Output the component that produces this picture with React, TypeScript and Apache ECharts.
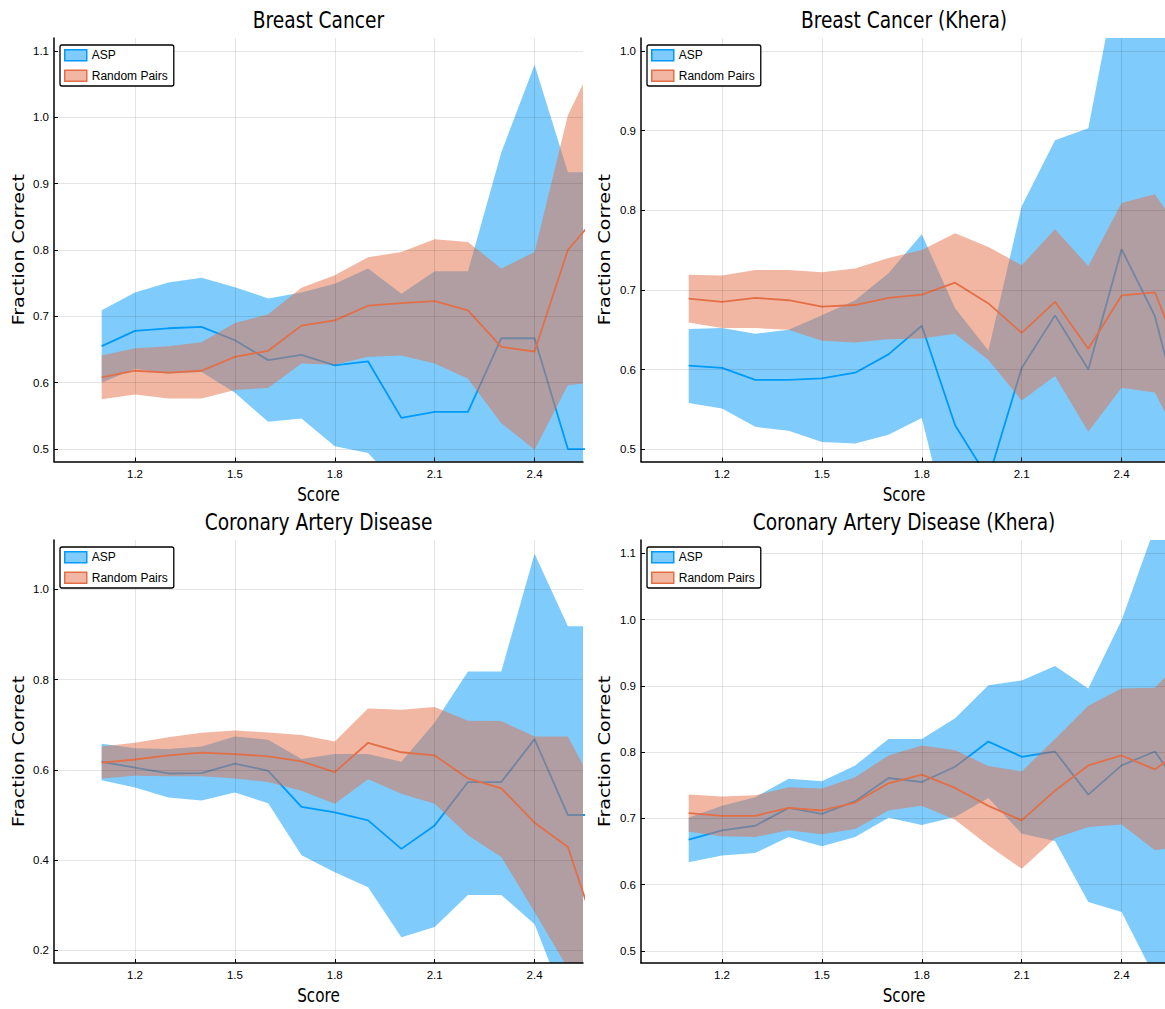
import React, { useEffect, useRef } from "react";
import * as echarts from "echarts";

// ---------------- data ----------------
const scores = [1.1, 1.2, 1.3, 1.4, 1.5, 1.6, 1.7, 1.8, 1.9, 2.0, 2.1, 2.2, 2.3, 2.4, 2.5, 2.6];
const xTickValues = [1.2, 1.5, 1.8, 2.1, 2.4];

const panelTitles = [
  "Breast Cancer",
  "Breast Cancer (Khera)",
  "Coronary Artery Disease",
  "Coronary Artery Disease (Khera)",
];
const seriesNames = ["ASP", "Random Pairs"];
const xAxisTitle = "Score";
const yAxisTitle = "Fraction Correct";

// Breast Cancer
const bcAspMean = [0.655, 0.678, 0.682, 0.684, 0.664, 0.634, 0.642, 0.626, 0.632, 0.547, 0.556, 0.556, 0.667, 0.667, 0.5, 0.5];
const bcAspUpper = [0.709, 0.736, 0.751, 0.758, 0.744, 0.727, 0.736, 0.749, 0.772, 0.734, 0.768, 0.768, 0.947, 1.079, 0.917, 0.917];
const bcAspLower = [0.6, 0.621, 0.614, 0.616, 0.585, 0.541, 0.546, 0.504, 0.494, 0.44, 0.42, 0.4, 0.38, 0.35, 0.3, 0.3];
const bcRpMean = [0.608, 0.618, 0.615, 0.618, 0.639, 0.648, 0.686, 0.694, 0.716, 0.72, 0.723, 0.709, 0.654, 0.647, 0.8, 0.859];
const bcRpUpper = [0.641, 0.652, 0.655, 0.661, 0.69, 0.703, 0.743, 0.762, 0.789, 0.797, 0.816, 0.812, 0.772, 0.797, 1.003, 1.107];
const bcRpLower = [0.575, 0.582, 0.576, 0.576, 0.589, 0.592, 0.629, 0.627, 0.639, 0.641, 0.629, 0.606, 0.539, 0.499, 0.596, 0.602];

// Breast Cancer (Khera)
const bckAspMean = [0.605, 0.602, 0.587, 0.587, 0.589, 0.596, 0.619, 0.655, 0.53, 0.463, 0.602, 0.668, 0.6, 0.751, 0.667, 0.505];
const bckAspUpper = [0.651, 0.652, 0.645, 0.65, 0.668, 0.687, 0.721, 0.77, 0.677, 0.624, 0.805, 0.888, 0.903, 1.12, 1.15, 1.1];
const bckAspLower = [0.558, 0.551, 0.528, 0.523, 0.509, 0.507, 0.518, 0.539, 0.37, 0.3, 0.33, 0.35, 0.33, 0.35, 0.3, 0.3];
const bckRpMean = [0.689, 0.685, 0.69, 0.687, 0.679, 0.681, 0.69, 0.694, 0.709, 0.683, 0.646, 0.685, 0.626, 0.693, 0.697, 0.59];
const bckRpUpper = [0.719, 0.718, 0.725, 0.725, 0.722, 0.727, 0.74, 0.75, 0.771, 0.754, 0.731, 0.776, 0.73, 0.809, 0.82, 0.76];
const bckRpLower = [0.659, 0.652, 0.652, 0.65, 0.636, 0.634, 0.638, 0.639, 0.645, 0.612, 0.561, 0.592, 0.522, 0.577, 0.571, 0.49];

// Coronary Artery Disease
const cadAspMean = [0.618, 0.605, 0.592, 0.593, 0.614, 0.598, 0.518, 0.506, 0.488, 0.425, 0.477, 0.573, 0.573, 0.668, 0.5, 0.5];
const cadAspUpper = [0.658, 0.648, 0.646, 0.652, 0.674, 0.667, 0.624, 0.635, 0.635, 0.618, 0.705, 0.818, 0.818, 1.079, 0.918, 0.918];
const cadAspLower = [0.577, 0.561, 0.539, 0.532, 0.55, 0.526, 0.411, 0.373, 0.34, 0.229, 0.252, 0.323, 0.323, 0.258, 0.07, 0.05];
const cadRpMean = [0.616, 0.623, 0.632, 0.638, 0.635, 0.63, 0.619, 0.595, 0.66, 0.639, 0.632, 0.581, 0.559, 0.483, 0.429, 0.208];
const cadRpUpper = [0.652, 0.66, 0.672, 0.682, 0.687, 0.683, 0.677, 0.663, 0.736, 0.733, 0.739, 0.709, 0.708, 0.674, 0.674, 0.535];
const cadRpLower = [0.581, 0.587, 0.586, 0.586, 0.581, 0.573, 0.554, 0.525, 0.579, 0.547, 0.525, 0.455, 0.407, 0.285, 0.16, 0.1];

// Coronary Artery Disease (Khera)
const cadkAspMean = [0.668, 0.682, 0.689, 0.716, 0.707, 0.726, 0.761, 0.755, 0.778, 0.816, 0.793, 0.801, 0.736, 0.78, 0.801, 0.73];
const cadkAspUpper = [0.701, 0.719, 0.732, 0.76, 0.756, 0.78, 0.82, 0.82, 0.851, 0.901, 0.908, 0.93, 0.896, 0.999, 1.14, 1.25];
const cadkAspLower = [0.634, 0.644, 0.648, 0.672, 0.658, 0.672, 0.701, 0.69, 0.702, 0.731, 0.677, 0.666, 0.574, 0.559, 0.46, 0.4];
const cadkRpMean = [0.708, 0.704, 0.704, 0.716, 0.712, 0.724, 0.753, 0.766, 0.746, 0.719, 0.697, 0.742, 0.78, 0.795, 0.774, 0.81];
const cadkRpUpper = [0.736, 0.733, 0.735, 0.747, 0.745, 0.762, 0.795, 0.81, 0.803, 0.779, 0.771, 0.82, 0.87, 0.896, 0.897, 0.95];
const cadkRpLower = [0.68, 0.673, 0.672, 0.682, 0.676, 0.684, 0.712, 0.719, 0.698, 0.659, 0.624, 0.67, 0.687, 0.691, 0.652, 0.66];

const yTicksBc = [0.5, 0.6, 0.7, 0.8, 0.9, 1.0, 1.1];
const yTicksBcK = [0.5, 0.6, 0.7, 0.8, 0.9, 1.0];
const yTicksCad = [0.2, 0.4, 0.6, 0.8, 1.0];
const yTicksCadK = [0.5, 0.6, 0.7, 0.8, 0.9, 1.0, 1.1];

const panels = [
  { title: panelTitles[0], yTicks: yTicksBc,
    asp: { mean: bcAspMean, upper: bcAspUpper, lower: bcAspLower },
    rp: { mean: bcRpMean, upper: bcRpUpper, lower: bcRpLower } },
  { title: panelTitles[1], yTicks: yTicksBcK,
    asp: { mean: bckAspMean, upper: bckAspUpper, lower: bckAspLower },
    rp: { mean: bckRpMean, upper: bckRpUpper, lower: bckRpLower } },
  { title: panelTitles[2], yTicks: yTicksCad,
    asp: { mean: cadAspMean, upper: cadAspUpper, lower: cadAspLower },
    rp: { mean: cadRpMean, upper: cadRpUpper, lower: cadRpLower } },
  { title: panelTitles[3], yTicks: yTicksCadK,
    asp: { mean: cadkAspMean, upper: cadkAspUpper, lower: cadkAspLower },
    rp: { mean: cadkRpMean, upper: cadkRpUpper, lower: cadkRpLower } },
];

// ---------------- layout & style ----------------
const layouts = [
  { left: 54, top: 38, width: 529, height: 423.5, xMin: 0.9568, xMax: 2.5454, yMin: 0.4812, yMax: 1.1195, cx: 318.5, titleY: 20, nameY: 494.5, fcX: 18.8 },
  { left: 641, top: 38, width: 524, height: 423.5, xMin: 0.9568, xMax: 2.5303, yMin: 0.4845, yMax: 1.0163, cx: 904, titleY: 20, nameY: 494.5, fcX: 605 },
  { left: 54, top: 540, width: 529, height: 423, xMin: 0.9568, xMax: 2.5454, yMin: 0.1722, yMax: 1.1092, cx: 318.5, titleY: 522, nameY: 995, fcX: 18.8 },
  { left: 641, top: 540, width: 524, height: 423, xMin: 0.9568, xMax: 2.5303, yMin: 0.4819, yMax: 1.1201, cx: 904, titleY: 522, nameY: 995, fcX: 605 },
];

const BLUE = "#009AFA";
const ORANGE = "#E36F47";
const BLUE_FILL = "rgba(0,154,250,0.5)";
const ORANGE_FILL = "rgba(227,111,71,0.5)";
const SANS = "'DejaVu Sans', sans-serif";
const TICK_FONT = "'Liberation Sans', 'DejaVu Sans', sans-serif";
const LEGEND_FONT = "'Liberation Sans', sans-serif";

type Band = { mean: number[]; upper: number[]; lower: number[] };

function bandSeries(i: number, name: string, d: Band, color: string, fill: string, zBase: number) {
  return [
    {
      type: "custom", name, xAxisIndex: i, yAxisIndex: i, coordinateSystem: "cartesian2d",
      data: scores.map((x, k) => [x, d.lower[k], d.upper[k]]),
      encode: { x: 0, y: [1, 2] },
      clip: true, silent: true, z: zBase,
      itemStyle: { color: fill },
      renderItem: (params: any, api: any) => {
        if (params.dataIndex !== 0) return null;
        const pts: number[][] = [];
        for (let k = 0; k < scores.length; k++) pts.push(api.coord([scores[k], d.upper[k]]));
        for (let k = scores.length - 1; k >= 0; k--) pts.push(api.coord([scores[k], d.lower[k]]));
        return { type: "polygon", shape: { points: pts }, style: { fill, stroke: null, lineWidth: 0 } };
      },
    },
    {
      type: "line", name: name + " mean", xAxisIndex: i, yAxisIndex: i,
      data: scores.map((x, k) => [x, d.mean[k]]),
      symbol: "none", silent: true, lineStyle: { color, width: 1.8 }, itemStyle: { color }, z: zBase + 1,
    },
  ];
}

function textEl(text: string, x: number, y: number, size: number, extra: any = {}) {
  return {
    type: "text", x, y, silent: true, z: 10, ...extra,
    style: {
      text, fontSize: size, fontFamily: SANS, fill: "#000",
      align: "center", verticalAlign: "middle",
      textAlign: "center", textVerticalAlign: "middle",
    },
  };
}

export default function App() {
  const ref = useRef<HTMLDivElement>(null);

  useEffect(() => {
    document.body.style.margin = "0";
    if (!ref.current) return;
    const chart = echarts.init(ref.current, undefined, { renderer: "svg" });

    const grid = layouts.map((l) => ({ left: l.left, top: l.top, width: l.width, height: l.height, containLabel: false }));

    const xAxis = layouts.map((l, i) => ({
      type: "value", gridIndex: i, min: l.xMin, max: l.xMax, z: 6,
      axisLine: { show: true, onZero: false, lineStyle: { color: "#000", width: 1.5 } },
      axisTick: { show: true, inside: true, length: 4, customValues: xTickValues, lineStyle: { color: "#000", width: 1 } },
      axisLabel: { customValues: xTickValues, formatter: (v: number) => v.toFixed(1), fontSize: 11.5, color: "#000", margin: 6, fontFamily: TICK_FONT },
      splitLine: { show: true, lineStyle: { color: "rgba(0,0,0,0.1)", width: 1 } },
    }));

    const yAxis = layouts.map((l, i) => ({
      type: "value", gridIndex: i, min: l.yMin, max: l.yMax, z: 6,
      axisLine: { show: true, onZero: false, lineStyle: { color: "#000", width: 1.5 } },
      axisTick: { show: true, inside: true, length: 4, customValues: panels[i].yTicks, lineStyle: { color: "#000", width: 1 } },
      axisLabel: { customValues: panels[i].yTicks, formatter: (v: number) => v.toFixed(1), fontSize: 11.5, color: "#000", margin: 5, fontFamily: TICK_FONT },
      splitLine: { show: true, lineStyle: { color: "rgba(0,0,0,0.1)", width: 1 } },
    }));

    const series: any[] = [];
    panels.forEach((p, i) => {
      series.push(...bandSeries(i, seriesNames[0], p.asp, BLUE, BLUE_FILL, 2));
      series.push(...bandSeries(i, seriesNames[1], p.rp, ORANGE, ORANGE_FILL, 4));
    });

    const legend = layouts.map((l) => ({
      left: l.left + 6, top: l.top + 7, orient: "vertical", z: 8,
      backgroundColor: "#fff", borderColor: "#000", borderWidth: 1.3, borderRadius: 2,
      padding: [4, 6, 4, 4], itemGap: 8, itemWidth: 22, itemHeight: 11,
      selectedMode: false,
      textStyle: { fontSize: 12, color: "#000", fontFamily: LEGEND_FONT },
      data: [
        { name: seriesNames[0], icon: "rect", itemStyle: { color: BLUE_FILL, borderColor: BLUE, borderWidth: 1.5 } },
        { name: seriesNames[1], icon: "rect", itemStyle: { color: ORANGE_FILL, borderColor: ORANGE, borderWidth: 1.5 } },
      ],
    }));

    const elements: any[] = [];
    layouts.forEach((l, i) => {
      elements.push(textEl(panels[i].title, l.cx, l.titleY, 23, { scaleX: 0.81 }));
      elements.push(textEl(xAxisTitle, l.cx, l.nameY, 20, { scaleX: 0.76 }));
      elements.push(textEl(yAxisTitle, l.fcX, l.top + l.height / 2, 19, { rotation: Math.PI / 2, scaleY: 0.85 }));
    });

    chart.setOption({
      animation: false,
      backgroundColor: "#fff",
      grid, xAxis, yAxis, series, legend,
      graphic: { elements },
    });

    return () => chart.dispose();
  }, []);

  return <div ref={ref} style={{ width: 1165, height: 1009 }} />;
}
